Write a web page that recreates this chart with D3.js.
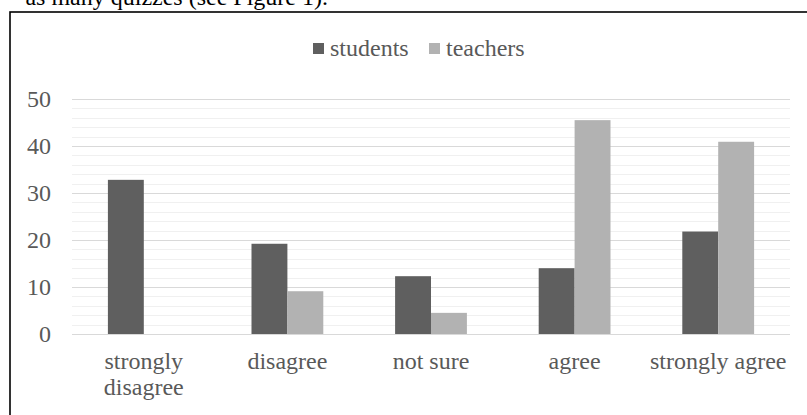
<!DOCTYPE html>
<html>
<head>
<meta charset="utf-8">
<script src="https://cdn.jsdelivr.net/npm/d3@7"></script>
<style>
  body { margin: 0; background: #fff; }
  svg text, svg tspan { font-family: "Liberation Serif", "DejaVu Serif", serif; }
</style>
</head>
<body>
<div id="chart"></div>
<script>
// data
var categories = ["strongly disagree", "disagree", "not sure", "agree", "strongly agree"];
var seriesNames = ["students", "teachers"];
var students = [32.8, 19.2, 12.3, 14.0, 21.8];
var teachers = [0, 9.1, 4.5, 45.5, 40.9];
var yTicks = [0, 10, 20, 30, 40, 50];

var colors = { students: "#5f5f5f", teachers: "#b2b2b2" };
var FONT = "Liberation Serif, DejaVu Serif, serif";

var W = 807, H = 415;
var margin = {top: 99, right: 17, bottom: 81, left: 72};

var svg = d3.select("#chart").append("svg")
  .attr("width", W)
  .attr("height", H);

// cut-off line of the paper text above the figure
svg.append("text")
  .attr("x", 328).attr("y", 5)
  .attr("text-anchor", "end")
  .attr("font-family", FONT)
  .attr("font-size", 24)
  .attr("fill", "#000")
  .text("as many quizzes (see Figure 1).");

// figure frame
svg.append("rect")
  .attr("x", 10).attr("y", 12)
  .attr("width", 810).attr("height", 420)
  .attr("fill", "none")
  .attr("stroke", "#000")
  .attr("stroke-width", 1.6);

var x = d3.scaleBand()
  .domain(categories)
  .range([margin.left, W - margin.right])
  .paddingInner(0.5)
  .paddingOuter(0.25);

var xs = d3.scaleBand()
  .domain(seriesNames)
  .range([0, x.bandwidth()]);

var y = d3.scaleLinear()
  .domain([0, 50])
  .range([334, margin.top]);

// minor gridlines every 2
var minor = d3.range(0, 51, 2).filter(function(v) { return v % 10 != 0; });
svg.append("g").selectAll("line")
  .data(minor)
  .enter().append("line")
    .attr("x1", margin.left).attr("x2", W - margin.right)
    .attr("y1", function(d) { return Math.round(y(d)) + 0.5; })
    .attr("y2", function(d) { return Math.round(y(d)) + 0.5; })
    .attr("stroke", "#f0f0f0")
    .attr("stroke-width", 1);

// major gridlines
svg.append("g").selectAll("line")
  .data(yTicks)
  .enter().append("line")
    .attr("x1", margin.left).attr("x2", W - margin.right)
    .attr("y1", function(d) { return Math.round(y(d)) + 0.5; })
    .attr("y2", function(d) { return Math.round(y(d)) + 0.5; })
    .attr("stroke", "#d9d9d9")
    .attr("stroke-width", 1.2);

// y labels
svg.append("g").selectAll("text")
  .data(yTicks)
  .enter().append("text")
    .attr("x", 51)
    .attr("y", function(d) { return y(d) + 8; })
    .attr("text-anchor", "end")
    .attr("font-family", FONT)
    .attr("font-size", 24)
    .attr("fill", "#595959")
    .text(function(d) { return d; });

// bars
var rows = categories.map(function(c, i) {
  return { cat: c, students: students[i], teachers: teachers[i] };
});

var groups = svg.append("g").selectAll("g")
  .data(rows)
  .enter().append("g")
    .attr("transform", function(d) { return "translate(" + x(d.cat) + ",0)"; });

groups.selectAll("rect")
  .data(function(d) { return seriesNames.map(function(s) { return {key: s, value: d[s]}; }); })
  .enter().append("rect")
    .attr("x", function(d) { return xs(d.key); })
    .attr("width", xs.bandwidth())
    .attr("y", function(d) { return y(d.value); })
    .attr("height", function(d) { return y(0) - y(d.value); })
    .attr("fill", function(d) { return colors[d.key]; });

// x labels (wrapped like the original)
var xLabelLines = {
  "strongly disagree": ["strongly", "disagree"]
};
svg.append("g").selectAll("text")
  .data(categories)
  .enter().append("text")
    .attr("x", function(d) { return x(d) + x.bandwidth() / 2; })
    .attr("y", 369)
    .attr("text-anchor", "middle")
    .attr("font-family", FONT)
    .attr("font-size", 24)
    .attr("fill", "#595959")
    .each(function(d) {
      var lines = xLabelLines[d] || [d];
      var t = d3.select(this);
      lines.forEach(function(l, i) {
        t.append("tspan")
          .attr("x", x(d) + x.bandwidth() / 2)
          .attr("dy", i == 0 ? 0 : 26)
          .text(l);
      });
    });

// legend
var legend = svg.append("g");
var legendX = [313, 429];
seriesNames.forEach(function(s, i) {
  legend.append("rect")
    .attr("x", legendX[i]).attr("y", 43)
    .attr("width", 11).attr("height", 11)
    .attr("fill", colors[s]);
  legend.append("text")
    .attr("x", legendX[i] + 17).attr("y", 56)
    .attr("font-family", FONT)
    .attr("font-size", 24)
    .attr("fill", "#595959")
    .text(s);
});
</script>
</body>
</html>
